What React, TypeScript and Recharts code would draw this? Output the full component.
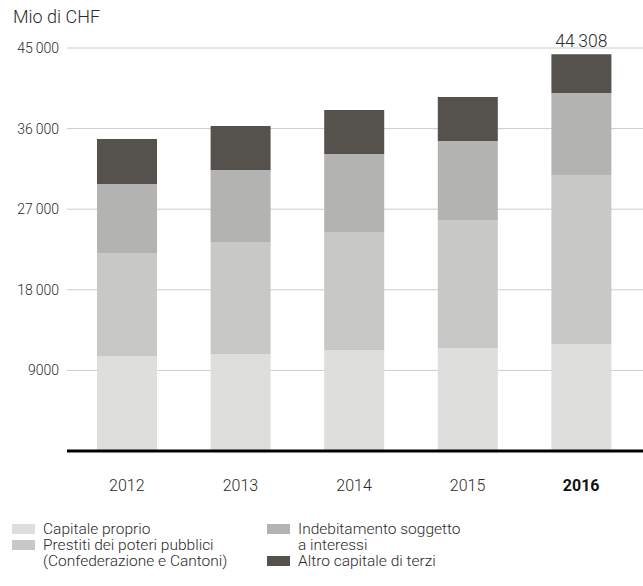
import * as React from "react"
import { BarChart, Bar, XAxis, YAxis, CartesianGrid } from "recharts"

const years = ["2012", "2013", "2014", "2015", "2016"]
const capitaleProprio = [10600, 10830, 11280, 11500, 11950]
const prestiti = [11510, 12510, 13170, 14290, 18870]
const indebitamento = [7700, 8040, 8710, 8820, 9150]
const altroCapitale = [5030, 4910, 4910, 4920, 4338]
const yTicks = [9000, 18000, 27000, 36000, 45000]
const totalLabel = "44\u2009308"

const FONT = "Roboto, 'Liberation Sans', sans-serif"
const TEXT = "#2b2b2b"

const COLORS = {
  capitale: "#dededd",
  prestiti: "#c8c8c6",
  indebitamento: "#b3b3b1",
  altro: "#55514c",
}

const data = years.map((year, i) => ({
  year,
  capitale: capitaleProprio[i],
  prestiti: prestiti[i],
  indebitamento: indebitamento[i],
  altro: altroCapitale[i],
}))

const fmt = (v: number) => {
  if (v < 10000) return String(v)
  const s = String(v)
  return s.slice(0, s.length - 3) + "\u2009" + s.slice(-3)
}

const YearTick = ({ x, y, payload }: any) => {
  const bold = payload.value === "2016"
  return (
    <text x={x} y={y} dy={5} textAnchor="middle" fill={bold ? "#111" : TEXT}
      style={{ fontFamily: FONT, fontSize: 16, fontWeight: bold ? 700 : 300 }}>
      {payload.value}
    </text>
  )
}

const TotalLabel = ({ x, y, width, index }: any) => {
  if (index !== years.length - 1) return null
  return (
    <text x={x + width / 2} y={y - 7} textAnchor="middle" fill={TEXT}
      style={{ fontFamily: FONT, fontSize: 17.5, fontWeight: 300 }}>
      {totalLabel}
    </text>
  )
}

const legendItems = [
  { key: "capitale", lines: ["Capitale proprio"], left: 12, top: 520.5 },
  { key: "prestiti", lines: ["Prestiti dei poteri pubblici", "(Confederazione e Cantoni)"], left: 12, top: 536.5 },
  { key: "indebitamento", lines: ["Indebitamento soggetto", "a interessi"], left: 267, top: 520.5 },
  { key: "altro", lines: ["Altro capitale di terzi"], left: 267, top: 552.5 },
]

export default function App() {
  return (
    <div style={{ position: "absolute", left: 0, top: 0, width: 643, height: 586, background: "#fff" }}>
      <div style={{ position: "absolute", left: 13, top: 6, fontFamily: FONT, fontWeight: 300, fontSize: 18, color: TEXT, lineHeight: "22px" }}>
        Mio di CHF
      </div>
      <BarChart width={643} height={586} data={data} margin={{ top: 48, right: 0, bottom: 95, left: 0 }}>
        <CartesianGrid vertical={false} stroke="#cccccc" strokeWidth={1} />
        <YAxis
          width={67}
          domain={[0, 45000]}
          ticks={yTicks}
          tickFormatter={fmt}
          axisLine={false}
          tickLine={false}
          tickSize={0}
          tickMargin={8}
          tick={{ fill: TEXT, fontSize: 14, fontFamily: FONT, fontWeight: 300 }}
        />
        <XAxis
          dataKey="year"
          height={40}
          padding={{ left: 3, right: 5 }}
          axisLine={{ stroke: "#000", strokeWidth: 3 }}
          tickLine={false}
          tickSize={0}
          tickMargin={35}
          tick={<YearTick />}
        />
        <Bar dataKey="capitale" stackId="a" fill={COLORS.capitale} barSize={60} isAnimationActive={false} />
        <Bar dataKey="prestiti" stackId="a" fill={COLORS.prestiti} barSize={60} isAnimationActive={false} />
        <Bar dataKey="indebitamento" stackId="a" fill={COLORS.indebitamento} barSize={60} isAnimationActive={false} />
        <Bar dataKey="altro" stackId="a" fill={COLORS.altro} barSize={60} isAnimationActive={false} label={<TotalLabel />} />
      </BarChart>
      {legendItems.map((item) => (
        <div key={item.key} style={{ position: "absolute", left: item.left, top: item.top, display: "flex", fontFamily: FONT, fontWeight: 300, fontSize: 15.5, color: TEXT, lineHeight: "16px" }}>
          <div style={{ width: 23, height: 10, marginTop: 3.5, background: (COLORS as any)[item.key], marginRight: 8 }} />
          <div>
            {item.lines.map((l) => (
              <div key={l}>{l}</div>
            ))}
          </div>
        </div>
      ))}
    </div>
  )
}
